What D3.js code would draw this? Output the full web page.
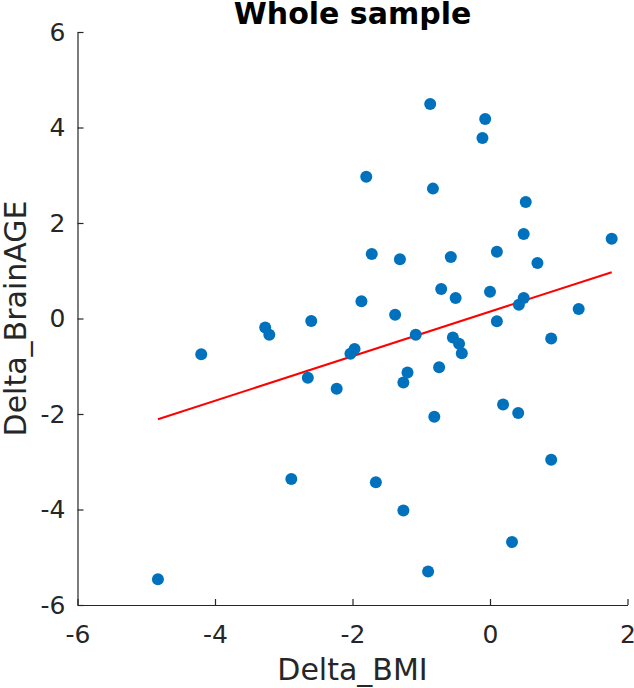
<!DOCTYPE html>
<html>
<head>
<meta charset="utf-8">
<script src="https://cdn.jsdelivr.net/npm/d3@7"></script>
<style>
  html, body { margin: 0; padding: 0; background: #fff; }
  svg { display: block; }
</style>
</head>
<body>
<script>
// ---- data ----
const deltaBMI = [
  -4.83, -4.20, -3.27, -3.21, -2.60, -2.65, -2.23, -2.89, -2.03, -1.97,
  -1.87, -1.80, -1.72, -1.66, -1.38, -1.31, -1.26, -1.20, -1.26, -1.08,
  -0.90, -0.87, -0.83, -0.81, -0.74, -0.71, -0.57, -0.54, -0.50, -0.45,
  -0.41, -0.11, -0.07, 0.00, 0.10, 0.10, 0.19, 0.32, 0.41, 0.42,
  0.49, 0.49, 0.52, 0.69, 0.89, 0.89, 1.29, 1.77
];
const deltaBrainAGE = [
  -5.46, -0.75, -0.19, -0.34, -0.05, -1.24, -1.47, -3.36, -0.74, -0.64,
  0.36, 2.97, 1.35, -3.43, 0.08, 1.24, -1.34, -1.13, -4.02, -0.34,
  -5.30, 4.49, 2.72, -2.06, -1.02, 0.62, 1.29, -0.40, 0.43, -0.53,
  -0.73, 3.78, 4.18, 0.56, 1.40, -0.06, -1.80, -4.68, -1.98, 0.29,
  0.43, 1.77, 2.44, 1.16, -0.42, -2.96, 0.20, 1.67
];
const fitX = [-4.83, 1.77];
const fitY = [-2.11, 0.97];
const xTicks = [-6, -4, -2, 0, 2];
const yTicks = [-6, -4, -2, 0, 2, 4, 6];
const titleText = "Whole sample";
const xLabel = "Delta_BMI";
const yLabel = "Delta_BrainAGE";

// ---- layout ----
const W = 634, H = 688;
const mLeft = 77.5, mRight = 627.5, mTop = 32, mBottom = 605;
const axisColor = "#262626";
const font = "'DejaVu Sans', sans-serif";

const svg = d3.select("body").append("svg").attr("width", W).attr("height", H);

const x = d3.scaleLinear().domain([-6, 2]).range([mLeft, mRight]);
const y = d3.scaleLinear().domain([-6, 6]).range([mBottom, mTop]);

// axes
const gx = svg.append("g").attr("transform", `translate(0,${mBottom})`)
  .call(d3.axisBottom(x).tickValues(xTicks).tickFormat(d3.format("d"))
        .tickSizeInner(-6).tickSizeOuter(0).tickPadding(0));
const gy = svg.append("g").attr("transform", `translate(${mLeft},0)`)
  .call(d3.axisLeft(y).tickValues(yTicks).tickFormat(d3.format("d"))
        .tickSizeInner(-6).tickSizeOuter(0).tickPadding(12));

[gx, gy].forEach(g => {
  g.select(".domain").attr("stroke", axisColor).attr("stroke-width", 1.2);
  g.selectAll(".tick line").attr("stroke", axisColor).attr("stroke-width", 1.2);
  g.selectAll(".tick text").attr("fill", axisColor)
    .style("font-family", font).style("font-size", "25px");
});
gx.selectAll(".tick text").attr("y", 38).attr("dy", null);
gx.selectAll(".tick text").text(d => d < 0 ? "-" + Math.abs(d) : d);
gy.selectAll(".tick text").text(d => d < 0 ? "-" + Math.abs(d) : d);

// regression line
svg.append("line")
  .attr("x1", x(fitX[0])).attr("y1", y(fitY[0]))
  .attr("x2", x(fitX[1])).attr("y2", y(fitY[1]))
  .attr("stroke", "#ff0000").attr("stroke-width", 2);

// points
svg.append("g").selectAll("circle")
  .data(deltaBMI.map((d, i) => [d, deltaBrainAGE[i]]))
  .join("circle")
  .attr("cx", d => x(d[0])).attr("cy", d => y(d[1]))
  .attr("r", 6).attr("fill", "#0072BD");

// title
svg.append("text")
  .attr("x", (mLeft + mRight) / 2).attr("y", 24)
  .attr("text-anchor", "middle")
  .style("font-family", font).style("font-size", "30px").style("font-weight", "bold")
  .attr("fill", "#000").text(titleText);

// x label
svg.append("text")
  .attr("x", (mLeft + mRight) / 2).attr("y", 680)
  .attr("text-anchor", "middle")
  .style("font-family", font).style("font-size", "30px")
  .attr("fill", axisColor).text(xLabel);

// y label
svg.append("text")
  .attr("transform", `translate(26,${(mTop + mBottom) / 2}) rotate(-90)`)
  .attr("text-anchor", "middle")
  .style("font-family", font).style("font-size", "30px")
  .attr("fill", axisColor).text(yLabel);
</script>
</body>
</html>
